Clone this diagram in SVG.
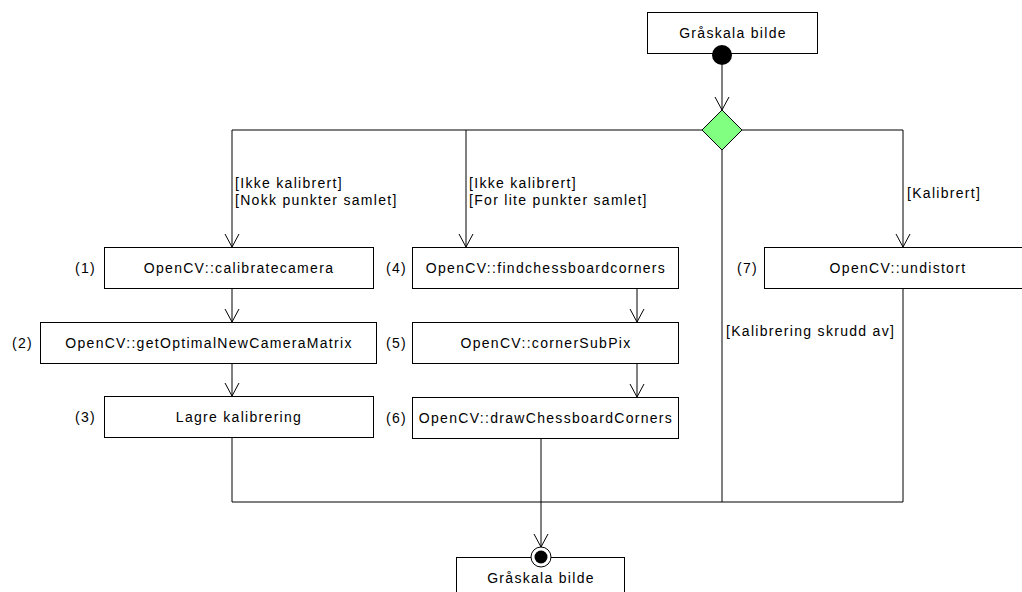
<svg xmlns="http://www.w3.org/2000/svg" width="1022" height="592" viewBox="0 0 1022 592">
  <style>
    .box { fill: #ffffff; stroke: #000000; stroke-width: 1; }
    .line { fill: none; stroke: #000000; stroke-width: 1; }
    text { font-family: "Liberation Sans", Arial, sans-serif; font-size: 14px; letter-spacing: 1.3px; fill: #000000; }
    .c { text-anchor: middle; }
  </style>
  <defs>
    <marker id="open" viewBox="-8 -14 16 16" markerWidth="16" markerHeight="16" refX="0" refY="0" orient="auto" markerUnits="userSpaceOnUse">
      <path d="M -7 -13 L 0 0 L 7 -13" fill="none" stroke="#000000" stroke-width="1"/>
    </marker>
    <marker id="openv" viewBox="-8 -14 16 16" markerWidth="16" markerHeight="16" refX="0" refY="0" orient="0" markerUnits="userSpaceOnUse">
      <path d="M -7 -13 L 0 0 L 7 -13" fill="none" stroke="#000000" stroke-width="1"/>
    </marker>
  </defs>

  <rect width="1022" height="592" fill="#ffffff"/>

  <!-- connectors -->
  <g id="connectors" class="line">
    <path d="M722 65 V110" marker-end="url(#openv)"/>
    <path d="M702 130 H232 V247" marker-end="url(#openv)"/>
    <path d="M466 130 V247" marker-end="url(#openv)"/>
    <path d="M742 130 H903 V247" marker-end="url(#openv)"/>
    <path d="M232 288 V322" marker-end="url(#openv)"/>
    <path d="M232 363 V396" marker-end="url(#openv)"/>
    <path d="M637 288 V322" marker-end="url(#openv)"/>
    <path d="M637 363 V397" marker-end="url(#openv)"/>
    <path d="M232 438 V502 H903 V288"/>
    <path d="M722 150 V502"/>
    <path d="M541 438 V547" marker-end="url(#openv)"/>
  </g>

  <!-- guard labels -->
  <g id="guards">
    <text x="235" y="188">[Ikke kalibrert]</text>
    <text x="235" y="205">[Nokk punkter samlet]</text>
    <text x="469" y="188">[Ikke kalibrert]</text>
    <text x="469" y="205">[For lite punkter samlet]</text>
    <text x="907" y="198">[Kalibrert]</text>
    <text x="726" y="336">[Kalibrering skrudd av]</text>
  </g>

  <!-- start -->
  <g id="start">
    <rect class="box" x="647.5" y="12.5" width="170" height="41"/>
    <text class="c" x="733" y="38">Gråskala bilde</text>
    <circle cx="722" cy="55" r="10" fill="#000000"/>
  </g>

  <!-- decision -->
  <g id="decision">
    <polygon points="722,110 742,130 722,150 702,130" fill="#80ff80" stroke="#000000" stroke-width="1"/>
  </g>

  <g id="n1">
    <rect class="box" x="104.5" y="247.5" width="269" height="41"/>
    <text class="c" x="239" y="273">OpenCV::calibratecamera</text>
    <text x="75" y="273">(1)</text>
  </g>
  <g id="n2">
    <rect class="box" x="40.5" y="322.5" width="336" height="41"/>
    <text class="c" x="209" y="348">OpenCV::getOptimalNewCameraMatrix</text>
    <text x="12" y="348">(2)</text>
  </g>
  <g id="n3">
    <rect class="box" x="104.5" y="396.5" width="269" height="41"/>
    <text class="c" x="239" y="422">Lagre kalibrering</text>
    <text x="75" y="422">(3)</text>
  </g>
  <g id="n4">
    <rect class="box" x="412.5" y="247.5" width="266" height="41"/>
    <text class="c" x="546" y="273">OpenCV::findchessboardcorners</text>
    <text x="386" y="273">(4)</text>
  </g>
  <g id="n5">
    <rect class="box" x="412.5" y="322.5" width="266" height="41"/>
    <text class="c" x="546" y="348">OpenCV::cornerSubPix</text>
    <text x="386" y="348">(5)</text>
  </g>
  <g id="n6">
    <rect class="box" x="412.5" y="397.5" width="266" height="41"/>
    <text class="c" x="546" y="423">OpenCV::drawChessboardCorners</text>
    <text x="386" y="423">(6)</text>
  </g>
  <g id="n7">
    <rect class="box" x="764.5" y="247.5" width="267" height="41"/>
    <text class="c" x="898" y="273">OpenCV::undistort</text>
    <text x="737" y="273">(7)</text>
  </g>

  <!-- end -->
  <g id="end">
    <rect class="box" x="456.5" y="557.5" width="168" height="45"/>
    <text class="c" x="541" y="583">Gråskala bilde</text>
    <circle cx="541" cy="557" r="10" fill="#ffffff" stroke="#000000" stroke-width="1"/>
    <circle cx="541" cy="557" r="6.5" fill="#000000"/>
  </g>
</svg>
